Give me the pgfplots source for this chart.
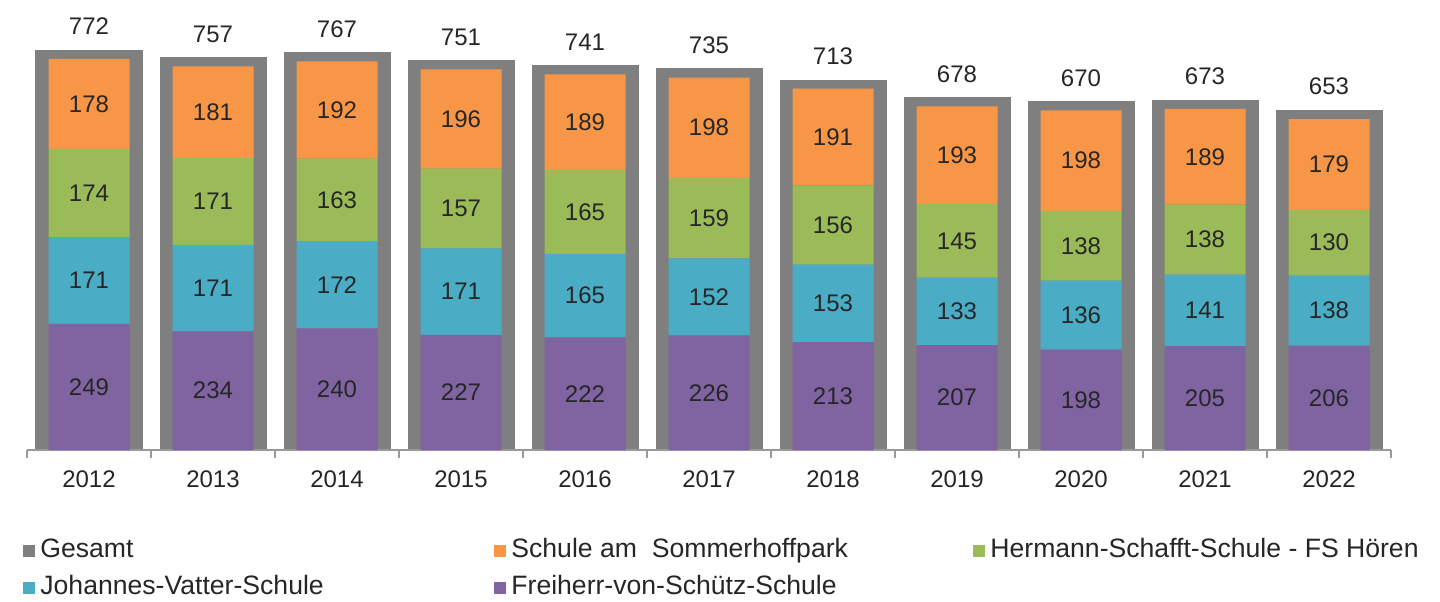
\documentclass[border=0pt]{standalone}
\usepackage{pgfplots}
\pgfplotsset{compat=1.18}
\usepackage{fontspec}
\setmainfont{Liberation Sans}
\definecolor{cgray}{HTML}{7F7F7F}
\definecolor{corange}{HTML}{F79646}
\definecolor{cgreen}{HTML}{9BBB59}
\definecolor{cblue}{HTML}{4BACC6}
\definecolor{cpurple}{HTML}{8064A2}
\definecolor{ctext}{HTML}{262626}
\begin{document}
\begin{tikzpicture}
\path[use as bounding box] (-13.5pt,-75.5pt) rectangle (706.5pt,225pt);
\pgfplotsset{
  base/.style={
    scale only axis, width=682pt, height=223pt,
    xmin=-0.5, xmax=10.5, ymin=0, ymax=880,
    /pgf/number format/assume math mode=true,
  }
}
% Gesamt (background)
\begin{axis}[base, hide axis,
  ybar, bar width=44.5pt,
  nodes near coords,
  every node near coord/.append style={anchor=south, yshift=7.5pt, inner sep=0pt,
     font=\fontsize{12}{14}\selectfont, text=ctext},
]
\addplot[fill=cgray, draw=cgray, line width=9pt] coordinates {
(0,772) (1,757) (2,767) (3,751) (4,741) (5,735) (6,713) (7,678) (8,670) (9,673) (10,653)};
\end{axis}
% stacked
\begin{axis}[base,
  ybar stacked, bar width=40.5pt,
  axis x line*=bottom, axis y line=none,
  axis line style={draw=gray!80, line width=0.8pt},
  xtick={0,...,10},
  xticklabels={2012,2013,2014,2015,2016,2017,2018,2019,2020,2021,2022},
  major tick length=0pt,
  minor xtick={-0.5,0.5,...,10.5},
  minor tick length=4pt,
  tick align=outside,
  minor x tick style={draw=gray!80, line width=0.8pt},
  xticklabel style={font=\fontsize{12}{14}\selectfont, text=ctext, yshift=-7pt},
  nodes near coords,
  every node near coord/.append style={anchor=center,
     font=\fontsize{12}{14}\selectfont, text=black!85},
  legend columns=3,
  legend style={draw=none, fill=none, at={(rel axis cs:0,0)}, anchor=north west,
     xshift=-5pt, yshift=-42pt, column sep=0pt, row sep=6pt,
     font=\fontsize{13.3}{15}\selectfont, text=ctext,
     nodes={inner sep=0pt, text height=9.5pt, text depth=3pt}},
  legend image code/.code={\fill[#1] (0pt,-3pt) rectangle (6pt,3pt);},
]
\addlegendimage{fill=cgray, draw=none}
\addlegendentry{\hspace{2.5pt}\makebox[227pt][l]{Gesamt}}
\addlegendimage{fill=corange, draw=none}
\addlegendentry{\hspace{2.5pt}\makebox[231pt][l]{Schule am\ \ Sommerhoffpark}}
\addlegendimage{fill=cgreen, draw=none}
\addlegendentry{\hspace{2.5pt}Hermann-Schafft-Schule - FS Hören}
\addlegendimage{fill=cblue, draw=none}
\addlegendentry{\hspace{2.5pt}\makebox[227pt][l]{Johannes-Vatter-Schule}}
\addlegendimage{fill=cpurple, draw=none}
\addlegendentry{\hspace{2.5pt}\makebox[231pt][l]{Freiherr-von-Schütz-Schule}}

\addplot[fill=cpurple, draw=none, forget plot] coordinates {
(0,249) (1,234) (2,240) (3,227) (4,222) (5,226) (6,213) (7,207) (8,198) (9,205) (10,206)};
\addplot[fill=cblue, draw=none, forget plot] coordinates {
(0,171) (1,171) (2,172) (3,171) (4,165) (5,152) (6,153) (7,133) (8,136) (9,141) (10,138)};
\addplot[fill=cgreen, draw=none, forget plot] coordinates {
(0,174) (1,171) (2,163) (3,157) (4,165) (5,159) (6,156) (7,145) (8,138) (9,138) (10,130)};
\addplot[fill=corange, draw=none, forget plot] coordinates {
(0,178) (1,181) (2,192) (3,196) (4,189) (5,198) (6,191) (7,193) (8,198) (9,189) (10,179)};
\end{axis}
\end{tikzpicture}
\end{document}
